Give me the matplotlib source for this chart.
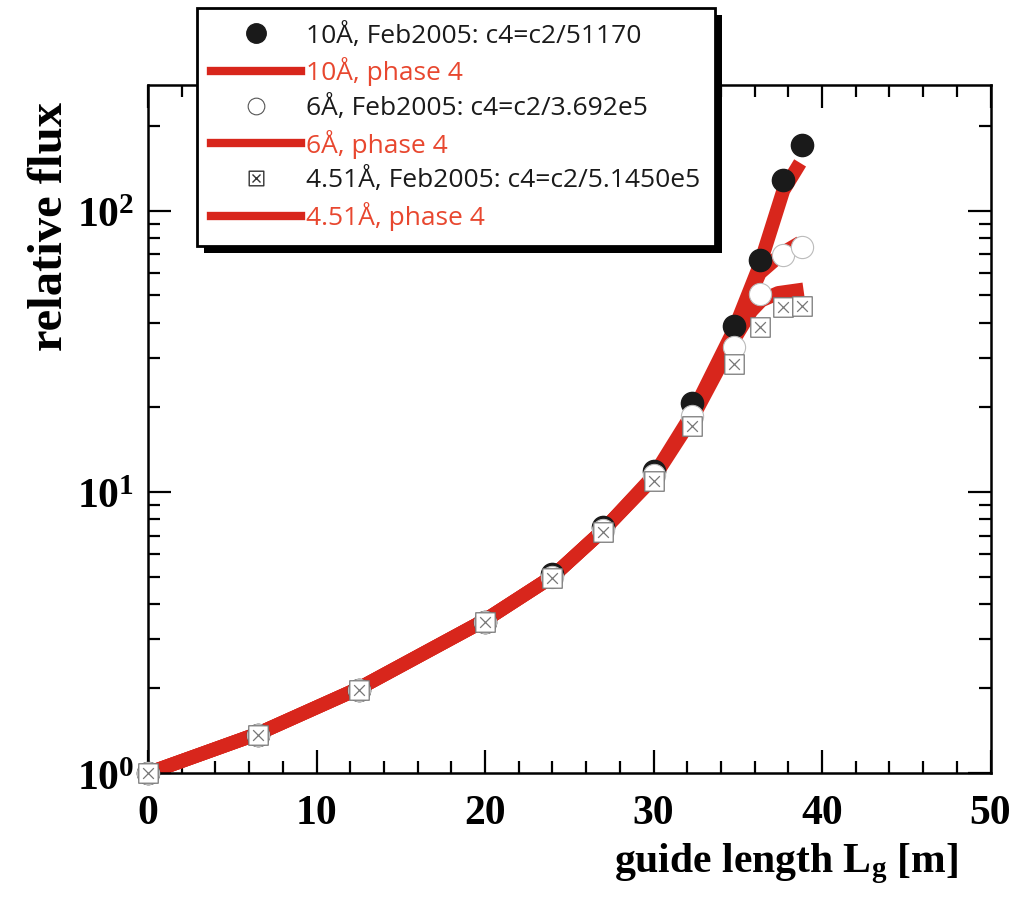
import numpy as np
import matplotlib
matplotlib.use("Agg")
import matplotlib.pyplot as plt
from matplotlib.lines import Line2D
from matplotlib.patches import Rectangle
from matplotlib.path import Path
from matplotlib.ticker import MultipleLocator, LogLocator, FuncFormatter, NullFormatter

# -------- DATA --------
L_meas = [0, 6.5, 12.5, 20, 24, 27, 30, 32.3, 34.8, 36.3, 37.7, 38.8]
flux_10A = [1.0, 1.37, 1.97, 3.44, 5.1, 7.5, 11.9, 20.7, 39, 67, 129, 172]
flux_6A = [1.0, 1.37, 1.97, 3.44, 5.0, 7.3, 11.5, 18.6, 32.8, 50.7, 69.7, 74.6]
flux_451A = [1.0, 1.37, 1.97, 3.44, 4.93, 7.18, 10.9, 17.2, 28.4, 38.5, 45.3, 45.7]

L_phase4 = [0, 6.5, 12.5, 20, 24, 27, 30, 32.3, 34.8, 36.3, 37.7, 38.7]
phase4_10A = [1.0, 1.38, 2.0, 3.5, 5.0, 7.3, 11.4, 19.0, 38, 64, 118, 148]
phase4_6A = [1.0, 1.38, 2.0, 3.5, 5.0, 7.3, 11.3, 18.6, 37, 60, 71, 77]
L_phase4_451 = [0, 6.5, 12.5, 20, 24, 27, 30, 32.3, 34.8, 35.8, 36.4, 37.4, 38.9]
phase4_451A = [1.0, 1.38, 2.0, 3.5, 5.0, 7.3, 11.2, 18.3, 35, 44, 48, 51, 52.5]

labels_meas = ["10Å, Feb2005: c4=c2/51170",
               "6Å, Feb2005: c4=c2/3.692e5",
               "4.51Å, Feb2005: c4=c2/5.1450e5"]
labels_phase4 = ["10Å, phase 4", "6Å, phase 4", "4.51Å, phase 4"]
# ---------------------------------------------

RED = "#d8261c"
RED_TXT = "#e8472f"

plt.rcParams["mathtext.fontset"] = "custom"
plt.rcParams["mathtext.rm"] = "Liberation Serif:bold"
plt.rcParams["mathtext.it"] = "Liberation Serif:bold"
plt.rcParams["mathtext.bf"] = "Liberation Serif:bold"

# square with an x inside
box_x = Path([(-1, -1), (1, -1), (1, 1), (-1, 1), (-1, -1),
              (-0.55, -0.55), (0.55, 0.55), (-0.55, 0.55), (0.55, -0.55)],
             [Path.MOVETO, Path.LINETO, Path.LINETO, Path.LINETO, Path.CLOSEPOLY,
              Path.MOVETO, Path.LINETO, Path.MOVETO, Path.LINETO])

fig = plt.figure(figsize=(10.18, 8.99), dpi=100)
ax = fig.add_axes([0.1454, 0.140, 0.8276, 0.7654])

lw_line = 10
for xs, ys in [(L_phase4, phase4_10A), (L_phase4, phase4_6A), (L_phase4_451, phase4_451A)]:
    ax.plot(xs, ys, color=RED, lw=lw_line, solid_capstyle="butt", solid_joinstyle="round", zorder=2)

ax.plot(L_meas, flux_10A, ls="none", marker="o", ms=16, mfc="#1a1a1a", mec="#1a1a1a", zorder=3, clip_on=False)
ax.plot(L_meas, flux_6A, ls="none", marker="o", ms=16, mfc="white", mec="#bbbbbb", mew=0.8, zorder=4, clip_on=False)
ax.plot(L_meas, flux_451A, ls="none", marker=box_x, ms=14, mfc="white", mec="#777777", mew=0.9, zorder=5, clip_on=False)

ax.set_yscale("log")
ax.set_xlim(0, 50)
ax.set_ylim(1, 280)

ax.xaxis.set_major_locator(MultipleLocator(10))
ax.xaxis.set_minor_locator(MultipleLocator(2))
ax.yaxis.set_major_locator(LogLocator(base=10, numticks=10))
ax.yaxis.set_minor_locator(LogLocator(base=10, subs=np.arange(2, 10), numticks=20))
ax.yaxis.set_minor_formatter(NullFormatter())
ax.yaxis.set_major_formatter(FuncFormatter(lambda v, p: r"$10^{%d}$" % round(np.log10(v))))

ax.tick_params(which="both", direction="in", top=True, right=True, width=1.6)
ax.tick_params(which="major", length=16.5)
ax.tick_params(which="minor", length=8.5)
ax.tick_params(axis="x", which="major", pad=16)
ax.tick_params(axis="y", which="major", pad=10)
for s in ax.spines.values():
    s.set_linewidth(1.8)

for t in ax.get_xticklabels():
    t.set_fontfamily("Liberation Serif")
    t.set_fontweight("bold")
    t.set_fontsize(30)
for t in ax.get_yticklabels():
    t.set_fontsize(30)

ax.set_ylabel("relative flux", fontfamily="Liberation Serif", fontweight="bold", fontsize=35)
ax.yaxis.set_label_coords(-0.09, 0.795)
ax.set_xlabel(r"guide length L$_{\rm g}$ [m]", fontfamily="Liberation Serif", fontweight="bold", fontsize=30)
ax.xaxis.set_label_coords(0.758, -0.10)

handles = [
    Line2D([], [], ls="none", marker="o", ms=14, mfc="#1a1a1a", mec="#1a1a1a"),
    Line2D([], [], color=RED, lw=6),
    Line2D([], [], ls="none", marker="o", ms=12, mfc="white", mec="#555555", mew=0.8),
    Line2D([], [], color=RED, lw=6),
    Line2D([], [], ls="none", marker=box_x, ms=10.5, mfc="white", mec="#333333", mew=1.0),
    Line2D([], [], color=RED, lw=6),
]
labels = [labels_meas[0], labels_phase4[0], labels_meas[1], labels_phase4[1], labels_meas[2], labels_phase4[2]]
leg = fig.legend(handles, labels, loc="upper left", bbox_to_anchor=(0.1935, 0.991),
                 bbox_transform=fig.transFigure, borderaxespad=0, frameon=True, fancybox=False,
                 prop={"family": "Open Sans", "size": 19}, handlelength=3.4, handletextpad=0.18,
                 labelspacing=0.33, borderpad=0.55, framealpha=1)
leg.get_frame().set_edgecolor("black")
leg.get_frame().set_linewidth(2)
leg.set_zorder(10)
for i, t in enumerate(leg.get_texts()):
    t.set_color(RED_TXT if i % 2 == 1 else "#1a1a1a")

# thick black drop shadow behind the legend
fig.canvas.draw()
bb = leg.get_window_extent().transformed(fig.transFigure.inverted())
dx, dy = 7 / fig.bbox.width, 7 / fig.bbox.height
shadow = Rectangle((bb.x0 + dx, bb.y0 - dy), bb.width, bb.height, transform=fig.transFigure,
                   facecolor="black", edgecolor="none", zorder=9)
fig.add_artist(shadow)

fig.savefig("out.png", dpi=100)
